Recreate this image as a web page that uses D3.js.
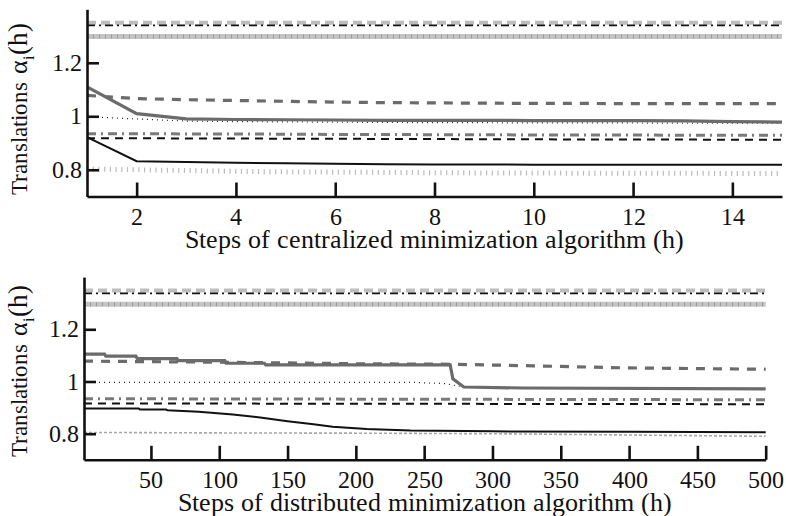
<!DOCTYPE html>
<html>
<head>
<meta charset="utf-8">
<script src="https://cdn.jsdelivr.net/npm/d3@7"></script>
<style>
  @font-face { font-family: "ChartSerif"; src: local("Liberation Serif"), local("LiberationSerif-Regular"), local("Times New Roman"); }
  body { margin: 0; background: #fff; }
  #chart text { font-family: "ChartSerif", "Liberation Serif" !important; fill: #111; }
</style>
</head>
<body>
<svg id="chart" width="786" height="516" font-family="Liberation Serif"></svg>
<script>
// --- centralized run (top panel) ---
var centralSteps   = [1, 2, 3, 4, 5, 6, 7, 8, 9, 10, 11, 12, 13, 14, 15];
var cLightDash     = [1.35, 1.35, 1.35, 1.35, 1.35, 1.35, 1.35, 1.35, 1.35, 1.35, 1.35, 1.35, 1.35, 1.35, 1.35];
var cBlackDashDot  = [1.34, 1.34, 1.34, 1.34, 1.34, 1.34, 1.34, 1.34, 1.34, 1.34, 1.34, 1.34, 1.34, 1.34, 1.34];
var cLightSolid    = [1.298, 1.298, 1.298, 1.298, 1.298, 1.298, 1.298, 1.298, 1.298, 1.298, 1.298, 1.298, 1.298, 1.298, 1.298];
var cGrayDash      = [1.078, 1.066, 1.062, 1.059, 1.056, 1.053, 1.051, 1.05, 1.049, 1.048, 1.048, 1.047, 1.047, 1.047, 1.047];
var cGraySolid     = [1.11, 1.01, 0.99, 0.988, 0.987, 0.986, 0.985, 0.985, 0.985, 0.984, 0.984, 0.984, 0.983, 0.98, 0.978];
var cBlackDot      = [0.998, 0.99, 0.982, 0.98, 0.979, 0.978, 0.977, 0.976, 0.976, 0.975, 0.975, 0.975, 0.974, 0.974, 0.974];
var cGrayDashDot   = [0.935, 0.935, 0.934, 0.934, 0.933, 0.932, 0.932, 0.931, 0.931, 0.93, 0.93, 0.93, 0.929, 0.929, 0.929];
var cBlackDash     = [0.918, 0.918, 0.917, 0.917, 0.916, 0.916, 0.915, 0.915, 0.914, 0.914, 0.913, 0.913, 0.913, 0.912, 0.912];
var cBlackSolid    = [0.922, 0.832, 0.829, 0.826, 0.824, 0.822, 0.821, 0.82, 0.82, 0.819, 0.819, 0.819, 0.819, 0.819, 0.819];
var cLightDot      = [0.803, 0.8, 0.797, 0.794, 0.792, 0.791, 0.79, 0.789, 0.788, 0.788, 0.787, 0.787, 0.787, 0.786, 0.786];

// --- distributed run (bottom panel), breakpoints ---
var dFlatX          = [1, 500];
var dLightDash      = [1.349, 1.349];
var dBlackDashDot   = [1.338, 1.338];
var dLightSolid     = [1.296, 1.296];
var dGraySolidX     = [1, 16, 17, 39, 40, 69, 70, 104, 105, 133, 134, 269, 271, 279, 322, 500];
var dGraySolid      = [1.105, 1.105, 1.097, 1.097, 1.088, 1.088, 1.08, 1.08, 1.07, 1.07, 1.064, 1.064, 1.01, 0.979, 0.975, 0.972];
var dGrayDashX      = [1, 100, 200, 270, 330, 400, 500];
var dGrayDash       = [1.078, 1.074, 1.068, 1.066, 1.06, 1.052, 1.047];
var dBlackDotX      = [1, 240, 265, 280, 500];
var dBlackDot       = [0.997, 0.997, 0.992, 0.978, 0.973];
var dGrayDashDot    = [0.934, 0.93];
var dBlackDash      = [0.916, 0.913];
var dBlackSolidX    = [1, 41, 42, 61, 62, 85, 110, 130, 150, 169, 183, 208, 240, 300, 400, 500];
var dBlackSolid     = [0.897, 0.897, 0.893, 0.893, 0.89, 0.884, 0.874, 0.862, 0.848, 0.836, 0.827, 0.818, 0.812, 0.809, 0.807, 0.806];
var dLightZigX      = [1, 100, 200, 300, 400, 500];
var dLightZig       = [0.805, 0.803, 0.802, 0.8, 0.795, 0.79];

var yTicks      = [0.8, 1, 1.2];
var yTickLabels = ["0.8", "1", "1.2"];
var topXTicks   = [2, 4, 6, 8, 10, 12, 14];
var botXTicks   = [50, 100, 150, 200, 250, 300, 350, 400, 450, 500];

// line looks
var styles = {
  lightDash:    { color: "#bdbdbd", width: 4,   dash: "9,5" },
  blackDashDot: { color: "#111",    width: 1.8, dash: "8,4,2,4" },
  lightSolid:   { color: "#c4c4c4", width: 5,   dash: null },
  lightTicks:   { color: "#9a9a9a", width: 4,   dash: "1,5" },
  grayDash:     { color: "#6b6b6b", width: 3.2, dash: "9,8" },
  graySolid:    { color: "#6b6b6b", width: 3.2, dash: null },
  blackDot:     { color: "#222",    width: 1.2, dash: "1,4" },
  grayDashDot:  { color: "#7a7a7a", width: 3,   dash: "9,5,2,5" },
  blackDash:    { color: "#111",    width: 2,   dash: "8,6" },
  blackSolid:   { color: "#111",    width: 2,   dash: null },
  lightDot:     { color: "#bbb",    width: 5,   dash: "1.2,4.5" },
  lightZig:     { color: "#a8a8a8", width: 1.6, dash: "3,2" }
};

var svg = d3.select("#chart");

function drawPanel(cfg) {
  var g = svg.append("g");
  var x = d3.scaleLinear().domain(cfg.xDomain).range(cfg.xRange);
  var y = d3.scaleLinear().domain([0.7, 1.4]).range(cfg.yRange);

  var line = d3.line()
    .x(function(d) { return x(d[0]); })
    .y(function(d) { return y(d[1]); });

  cfg.series.forEach(function(s) {
    var st = styles[s.style];
    var pts = s.xs.map(function(v, i) { return [v, s.ys[i]]; });
    g.append("path")
      .datum(pts)
      .attr("d", line)
      .attr("fill", "none")
      .attr("stroke", st.color)
      .attr("stroke-width", st.width)
      .attr("stroke-dasharray", st.dash);
  });

  // x axis, ticks pointing inward
  var xAxis = g.append("g")
    .attr("transform", "translate(0," + cfg.yRange[0] + ")")
    .call(d3.axisBottom(x).tickValues(cfg.xTicks).tickSizeInner(-14).tickSizeOuter(0).tickPadding(11));
  // y axis
  var yAxis = g.append("g")
    .attr("transform", "translate(" + cfg.xRange[0] + ",0)")
    .call(d3.axisLeft(y).tickValues(yTicks).tickSizeInner(-12).tickSizeOuter(0).tickPadding(5)
      .tickFormat(function(d, i) { return yTickLabels[i]; }));

  [xAxis, yAxis].forEach(function(a) {
    a.attr("font-family", "Liberation Serif").attr("font-size", 24);
    a.select(".domain").attr("stroke", "#111").attr("stroke-width", 2.6);
    a.selectAll(".tick line").attr("stroke", "#111").attr("stroke-width", 2.6);
    a.selectAll(".tick text").attr("fill", "#111");
  });

  // axis titles
  g.append("text")
    .attr("x", (cfg.xRange[0] + cfg.xRange[1]) / 2)
    .attr("y", cfg.yRange[0] + 51)
    .attr("text-anchor", "middle")
    .attr("font-size", 26)
    .text(cfg.xTitle);

  var yl = g.append("text")
    .attr("transform", "translate(27," + cfg.yLabelStart + ") rotate(-90)")
    .attr("text-anchor", "start")
    .attr("font-size", 23);
  yl.append("tspan").text("Translations");
  yl.append("tspan").attr("dx", 8).attr("font-size", 26).text("α");
  yl.append("tspan").attr("dy", 7).attr("font-size", 16).text("i");
  yl.append("tspan").attr("dy", -7).attr("dx", 1).attr("font-size", 27).text("(h)");
}

drawPanel({
  xDomain: [1, 15], xRange: [87, 782], yRange: [196.5, 9.3],
  xTicks: topXTicks, yLabelStart: 195,
  xTitle: "Steps of centralized minimization algorithm (h)",
  series: [
    { xs: centralSteps, ys: cLightSolid,   style: "lightSolid" },
    { xs: centralSteps, ys: cLightSolid,   style: "lightTicks" },
    { xs: centralSteps, ys: cLightDash,    style: "lightDash" },
    { xs: centralSteps, ys: cBlackDashDot, style: "blackDashDot" },
    { xs: centralSteps, ys: cLightDot,     style: "lightDot" },
    { xs: centralSteps, ys: cGrayDash,     style: "grayDash" },
    { xs: centralSteps, ys: cBlackDot,     style: "blackDot" },
    { xs: centralSteps, ys: cGraySolid,    style: "graySolid" },
    { xs: centralSteps, ys: cGrayDashDot,  style: "grayDashDot" },
    { xs: centralSteps, ys: cBlackDash,    style: "blackDash" },
    { xs: centralSteps, ys: cBlackSolid,   style: "blackSolid" }
  ]
});

drawPanel({
  xDomain: [1, 500], xRange: [84, 765.7], yRange: [459.8, 277.1],
  xTicks: botXTicks, yLabelStart: 457,
  xTitle: "Steps of distributed minimization algorithm (h)",
  series: [
    { xs: dFlatX,       ys: dLightSolid,   style: "lightSolid" },
    { xs: dFlatX,       ys: dLightSolid,   style: "lightTicks" },
    { xs: dFlatX,       ys: dLightDash,    style: "lightDash" },
    { xs: dFlatX,       ys: dBlackDashDot, style: "blackDashDot" },
    { xs: dLightZigX,   ys: dLightZig,     style: "lightZig" },
    { xs: dGrayDashX,   ys: dGrayDash,     style: "grayDash" },
    { xs: dBlackDotX,   ys: dBlackDot,     style: "blackDot" },
    { xs: dGraySolidX,  ys: dGraySolid,    style: "graySolid" },
    { xs: dFlatX,       ys: dGrayDashDot,  style: "grayDashDot" },
    { xs: dFlatX,       ys: dBlackDash,    style: "blackDash" },
    { xs: dBlackSolidX, ys: dBlackSolid,   style: "blackSolid" }
  ]
});
</script>
</body>
</html>
